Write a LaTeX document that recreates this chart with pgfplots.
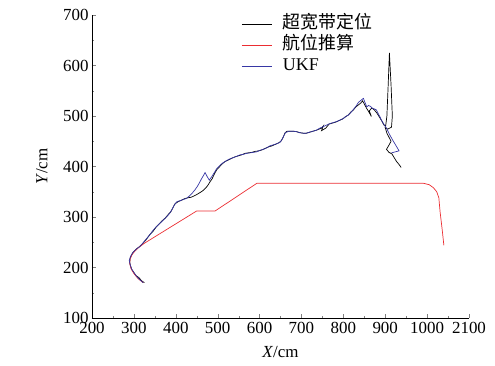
\documentclass[border=0pt]{standalone}
\usepackage{fontspec}
\setmainfont{Liberation Serif}
\newfontfamily\cjk{Noto Sans CJK SC}
\usepackage{pgfplots}
\pgfplotsset{compat=1.18}
\definecolor{myred}{RGB}{235,45,50}
\definecolor{myblue}{RGB}{55,55,165}
\begin{document}
\begin{tikzpicture}
\begin{axis}[
  scale only axis, width=377bp, height=303bp,
  xmin=200, xmax=1100, ymin=100, ymax=700,
  axis lines=left, axis line style={-, line width=0.8pt},
  tick align=inside, major tick length=4bp, minor tick length=2.5bp,
  xtick={200,300,...,1100}, xticklabels={200,300,400,500,600,700,800,900,1000,2100},
  ytick={100,200,...,700}, minor x tick num=1, minor y tick num=1,
  /pgf/number format/assume math mode=true,
  tick label style={font=\fontsize{17}{18}\selectfont},
  xticklabel style={yshift=-1bp},
  label style={font=\fontsize{17}{18}\selectfont},
  xlabel={\textit{X}/cm}, ylabel={\textit{Y}/cm},
  xlabel style={at={(axis description cs:0.5,-0.112)}, anchor=center},
  ylabel style={at={(axis description cs:-0.133,0.5)}, anchor=center},
  legend style={draw=none, fill=none, at={(0.395,1.005)}, anchor=north west, inner sep=0pt,
    row sep=1bp, nodes={inner sep=1.5bp, text height=13bp, text depth=4bp, font=\fontsize{18}{20}\selectfont}},
  legend cell align=left,
  legend image code/.code={\draw[#1, line width=1.3pt] (0bp,-1bp) -- (30bp,-1bp);},
  every axis plot/.append style={line width=0.7pt},
]
\coordinate (o) at (rel axis cs:0,0);
\addplot[black, mark=none] coordinates {
(325,170)(318,174)(312,180)(305,184)(300,190)(295,196)(292,203)(290,210)(291,218)(294,224)(298,230)(305,236)(313,241)(322,248)(330,256)(338,265)(346,272)(353,280)(360,286)(368,293)(375,298)(382,305)(388,310)(393,318)(398,326)(405,330)(413,333)(420,336)(428,338)(436,339)(442,341)(449,344)(455,347)(461,350)(466,353)(471,357)(476,362)(482,370)(487,376)(492,385)(498,394)(505,400)(512,406)(518,410)(526,413)(533,416)(541,419)(549,421)(557,423)(565,426)(573,427)(581,428)(590,430)(598,431)(606,433)(614,436)(622,439)(630,441)(638,444)(646,447)(652,451)(657,459)(661,467)(666,470)(673,470)(680,470)(688,469)(696,467)(704,466)(712,466)(720,468)(728,470)(736,472)(742,474)(748,476)(752,480)(748,471)(758,476)(766,484)(774,486)(782,488)(790,491)(798,494)(806,499)(812,502)(818,508)(824,512)(830,518)(836,522)(842,526)(846,530)(850,524)(855,516)(861,508)(867,499)(862,510)(868,516)(874,512)(880,506)(886,498)(892,490)(897,482)(901,480)(904,500)(907,560)(910,625)(914,560)(917,500)(915,478)(906,474)(900,477)(904,466)(909,458)(914,450)(908,441)(903,434)(909,428)(916,425)(921,418)(927,410)(933,404)(938,398)
};
\addlegendentry{\hspace{9bp}{\cjk 超宽带定位}}
\addplot[myred, mark=none] coordinates {
(322,170)(310,178)(300,188)(293,198)(290,208)(291,217)(296,226)(303,233)(312,240)(325,248)(450,312)(494,312)(594,367)(990,367)(1005,364)(1015,358)(1023,350)(1028,338)(1031,310)(1036,275)(1040,244)
};
\addlegendentry{\hspace{9bp}{\cjk 航位推算}}
\addplot[myblue, mark=none] coordinates {
(322,170)(314,176)(306,183)(300,190)(294,198)(291,206)(289,214)(292,222)(297,229)(305,236)(315,242)(323,250)(331,258)(339,266)(346,274)(353,280)(360,286)(368,292)(375,298)(381,303)(386,308)(391,315)(396,323)(402,330)(409,332)(416,334)(426,337)(433,342)(440,348)(446,354)(451,360)(456,367)(461,375)(466,382)(470,388)(475,380)(480,373)(486,380)(492,388)(498,396)(505,402)(512,407)(518,410)(526,414)(535,417)(545,420)(553,423)(561,424)(569,426)(577,427)(585,428)(593,429)(601,432)(609,434)(617,437)(625,441)(633,443)(641,445)(649,448)(654,454)(658,461)(662,467)(670,470)(680,470)(688,469)(696,467)(704,466)(712,466)(720,468)(728,470)(736,472)(744,476)(752,479)(760,482)(768,485)(776,487)(784,489)(792,492)(800,495)(806,499)(812,502)(818,507)(824,513)(830,519)(836,527)(842,531)(848,535)(852,526)(856,518)(860,521)(865,519)(870,515)(874,514)(879,512)(883,505)(887,499)(891,492)(895,486)(899,481)(903,476)(910,464)(918,452)(926,441)(933,431)(924,429)(915,427)
};
\addlegendentry{\hspace{9bp}UKF}
\end{axis}
\path (o) ++(-92bp,-48bp) rectangle ++(495bp,366bp);
\end{tikzpicture}
\end{document}
